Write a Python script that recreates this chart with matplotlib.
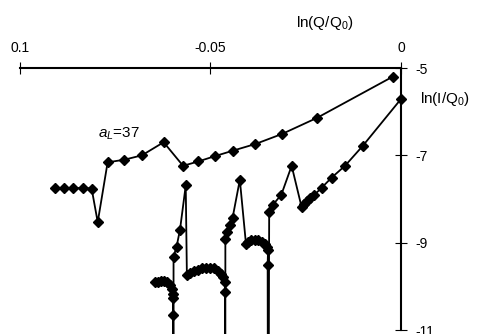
import numpy as np
import matplotlib
matplotlib.use('Agg')
import matplotlib.pyplot as plt

plt.rcParams['font.family'] = ['Liberation Sans', 'DejaVu Sans']
plt.rcParams['mathtext.fontset'] = 'custom'
plt.rcParams['mathtext.rm'] = 'Liberation Sans'
plt.rcParams['mathtext.it'] = 'Liberation Sans:italic'
plt.rcParams['axes.unicode_minus'] = False

# Série supérieure (a_L = 37)
x_haut = [-0.0908, -0.0884, -0.0860, -0.0835, -0.0812, -0.0796, -0.0770, -0.0726,
          -0.0680, -0.0623, -0.0572, -0.0532, -0.0489, -0.0440, -0.0382, -0.0312,
          -0.0220, -0.0022]
y_haut = [-7.75, -7.75, -7.75, -7.75, -7.76, -8.53, -7.16, -7.10,
          -7.00, -6.70, -7.24, -7.14, -7.02, -6.89, -6.74, -6.51,
          -6.14, -5.20]

# Série inférieure : -15 remplace ln(0) (hors échelle)
x_bas = [-0.0646, -0.0638, -0.0630, -0.0622, -0.0614, -0.0606, -0.0601, -0.0598,
         -0.0598, -0.0598, -0.0597,
         -0.0597, -0.0597, -0.0589, -0.0580, -0.0565,
         -0.0562, -0.0554, -0.0543, -0.0533, -0.0522, -0.0512, -0.0501, -0.0491,
         -0.0480, -0.0472, -0.0466, -0.0462, -0.0462, -0.0461,
         -0.0461, -0.0461, -0.0456, -0.0449, -0.0442, -0.0423,
         -0.0407, -0.0402, -0.0394, -0.0383, -0.0375, -0.0365, -0.0357, -0.0352,
         -0.0349, -0.0350, -0.0349,
         -0.0348, -0.0346, -0.0336, -0.0314, -0.0287,
         -0.0261, -0.0255, -0.0247, -0.0238, -0.0228, -0.0208, -0.0182, -0.0147,
         -0.0101, 0.0]
y_bas = [-9.91, -9.89, -9.87, -9.87, -9.91, -9.98, -10.07, -10.17,
         -10.26, -10.65, -15,
         -15, -9.32, -9.09, -8.70, -7.69,
         -9.73, -9.69, -9.64, -9.62, -9.59, -9.58, -9.58, -9.59,
         -9.64, -9.71, -9.78, -9.89, -10.14, -15,
         -15, -8.91, -8.75, -8.59, -8.43, -7.56,
         -9.02, -8.98, -8.95, -8.93, -8.94, -8.98, -9.02, -9.09,
         -9.16, -9.51, -15,
         -15, -8.29, -8.13, -7.90, -7.24,
         -8.18, -8.12, -8.05, -7.98, -7.91, -7.74, -7.51, -7.24,
         -6.79, -5.71]

x_ticks = [-0.1, -0.05, 0]
x_labels = ['0.1', '-0.05', '0']
y_ticks = [-5, -7, -9, -11]

fig = plt.figure(figsize=(4.81, 3.34), dpi=100)
ax = fig.add_axes([20/481, 4/334, 381/481, 262/334])

ax.plot(x_haut, y_haut, color='black', lw=1.3, marker='D', ms=5.2)
ax.plot(x_bas, y_bas, color='black', lw=1.3, marker='D', ms=5.2, clip_on=False)

ax.set_xlim(-0.1, 0)
ax.set_ylim(-11, -5)

# Axes croisés : axe x en haut, axe y à droite
ax.spines['left'].set_visible(False)
ax.spines['bottom'].set_visible(False)
ax.spines['top'].set_linewidth(1.5)
ax.spines['right'].set_linewidth(1.5)

ax.xaxis.tick_top()
ax.yaxis.tick_right()
ax.set_xticks(x_ticks)
ax.set_xticklabels(x_labels)
ax.set_yticks(y_ticks)
ax.tick_params(axis='both', direction='inout', length=8, width=0.8, labelsize=10)
ax.tick_params(axis='x', pad=5)
ax.tick_params(axis='y', pad=6)

ax.text(0.8, 1.17, r'ln(Q/Q$_\mathregular{0}$)', transform=ax.transAxes,
        ha='center', va='center', fontsize=11)
ax.text(1.05, 0.88, r'ln(I/Q$_\mathregular{0}$)', transform=ax.transAxes,
        ha='left', va='center', fontsize=11, clip_on=False)
ax.text(-0.0795, -6.6, r'$a_L$=37', ha='left', va='baseline', fontsize=11)

plt.savefig('out.png', dpi=100)
